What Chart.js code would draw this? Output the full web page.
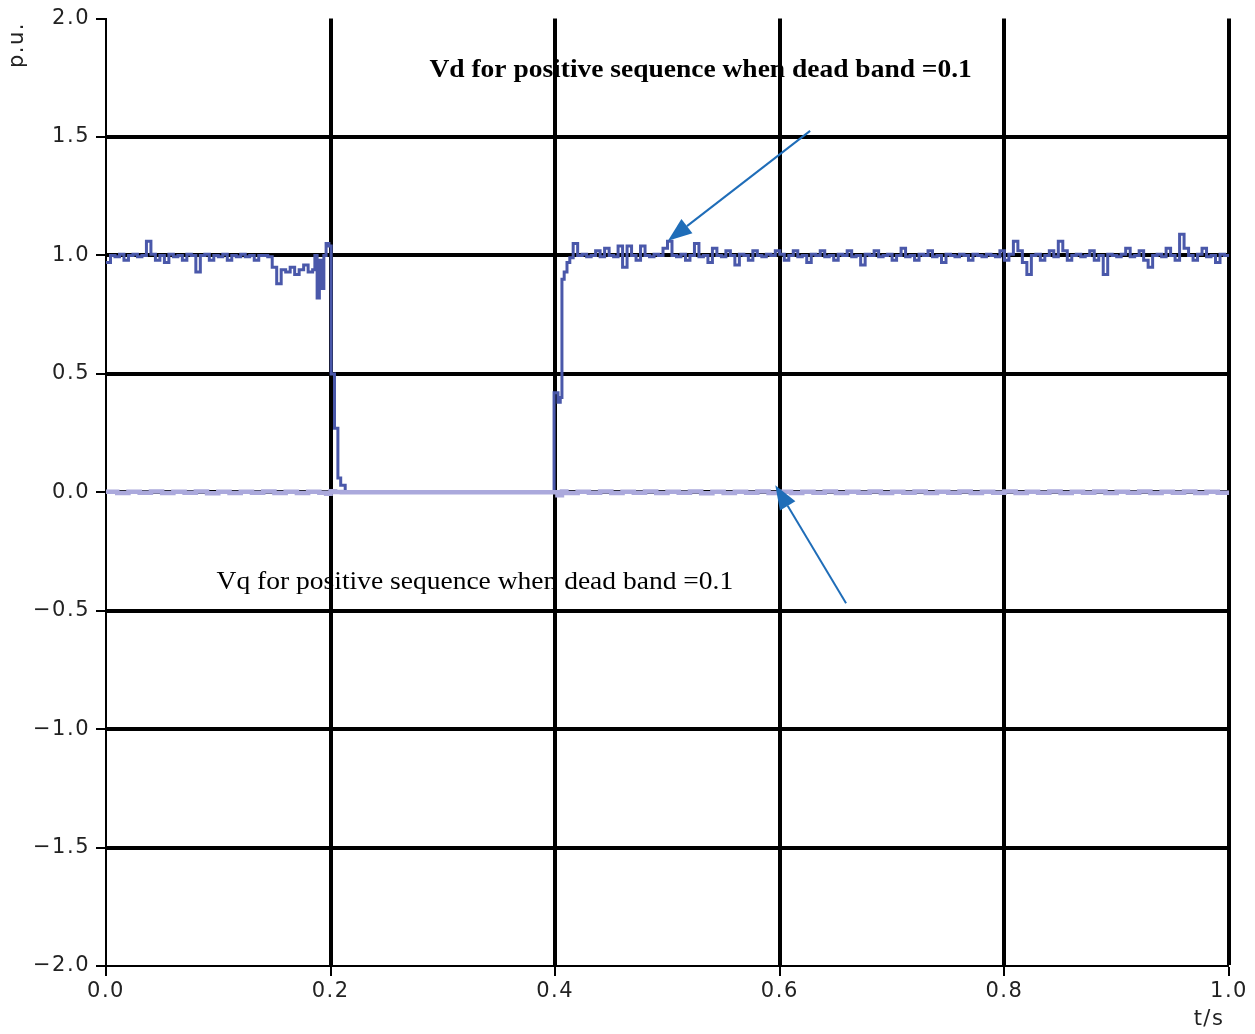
<!DOCTYPE html>
<html>
<head>
<meta charset="utf-8">
<script src="https://cdn.jsdelivr.net/npm/chart.js@4.4.1/dist/chart.umd.min.js"></script>
<style>
html,body{margin:0;padding:0;background:#fff;}
#wrap{width:1255px;height:1034px;position:relative;}
</style>
</head>
<body>
<div id="wrap"><canvas id="c" width="1255" height="1034"></canvas></div>
<script>
// ---------- data ----------
const xTickLabels = ['0.0','0.2','0.4','0.6','0.8','1.0'];
const yTickLabels = ['\u22122.0','\u22121.5','\u22121.0','\u22120.5','0.0','0.5','1.0','1.5','2.0'];

// Vd: pre-fault samples, t = 0 .. 0.184 step 0.004
const vdPreStart = 0, vdPreStep = 0.004;
const vdPre = [0.97,1.00,0.995,1.005,0.98,1.00,1.005,0.995,1.00,1.06,
               1.005,0.98,1.00,0.97,1.005,0.995,1.00,0.98,1.005,1.00,
               0.93,1.00,1.005,0.98,1.00,0.995,1.005,0.98,1.00,0.995,
               1.005,0.995,1.00,0.98,1.00,1.00,0.995,0.95,0.88,0.94,
               0.93,0.95,0.92,0.94,0.96,0.93,0.94];
// Vd: collapse around t = 0.2
const vdFallT = [0.186,0.188,0.190,0.192,0.194,0.196,0.1985,0.2005,0.2015,0.2035,0.2045,0.2065,0.209,0.213,0.399];
const vdFallV = [1.00, 0.82, 0.98, 0.86, 1.00, 1.05, 1.04,  0.50,  0.50,  0.27,  0.27,  0.06,  0.03, 0.00, 0.00];
// Vd: recovery around t = 0.4
const vdRiseT = [0.399,0.4025,0.4045,0.406,0.408,0.4105,0.413,0.416];
const vdRiseV = [0.42, 0.38,  0.40,  0.90, 0.93, 0.97,  0.99, 1.05];
// Vd: post-recovery samples, t = 0.42 .. 1.0 step 0.004
const vdPostStart = 0.42, vdPostStep = 0.004;
const vdPost = [1.00,1.005,0.995,1.00,1.02,0.995,1.03,1.00,0.995,1.04,
                0.95,1.04,1.00,0.98,1.04,1.00,0.995,1.005,1.00,1.03,
                1.06,1.00,0.995,1.005,0.98,1.00,1.05,0.995,1.00,0.97,
                1.03,1.00,0.995,1.02,1.00,0.96,1.005,1.00,0.98,1.02,
                1.00,0.995,1.005,1.00,1.02,1.005,0.98,1.00,1.02,0.995,
                1.00,0.97,1.005,1.00,1.02,0.995,1.00,0.98,1.005,1.00,
                1.02,0.995,1.00,0.96,1.005,1.00,1.02,0.995,1.00,1.005,
                0.98,1.00,1.03,0.995,1.00,0.98,1.005,1.00,1.02,0.995,
                1.00,0.97,1.005,1.00,0.995,1.005,1.00,0.98,1.005,1.00,
                0.995,1.005,1.00,0.995,1.02,0.98,1.005,1.06,1.02,0.97,
                0.92,1.00,1.005,0.98,1.00,1.02,0.995,1.06,1.02,0.98,
                1.00,1.005,0.995,1.00,1.02,0.98,1.00,0.92,1.005,1.00,
                0.995,1.005,1.03,0.995,1.00,1.02,0.98,0.95,1.00,1.005,
                0.995,1.03,1.00,0.98,1.09,1.03,1.00,0.98,1.005,1.03,
                0.995,1.00,0.97,1.005,1.00,1.00];

// Vq: pre-fault samples t = 0 .. 0.19 step 0.01
const vqPreStart = 0, vqPreStep = 0.01;
const vqPre = [0.002,-0.003,0.002,-0.002,0.003,-0.003,0.002,-0.002,0.003,-0.004,
               0.002,-0.003,0.002,-0.002,0.003,-0.003,0.002,-0.003,0.002,-0.002];
const vqMidT = [0.196,0.200,0.204,0.210,0.400,0.402,0.406];
const vqMidV = [-0.006,0.004,0.001,0.000,0.000,-0.012,0.003];
// Vq: post samples t = 0.41 .. 1.0 step 0.01
const vqPostStart = 0.41, vqPostStep = 0.01;
const vqPost = [-0.003,0.002,-0.002,0.003,-0.003,0.002,-0.002,0.003,-0.003,0.002,
                -0.002,0.003,-0.004,0.002,-0.003,0.002,-0.002,0.003,-0.003,0.002,
                -0.003,0.002,-0.002,0.003,-0.003,0.002,-0.002,0.003,-0.003,0.002,
                -0.002,0.003,-0.003,0.002,-0.002,0.003,-0.003,0.002,-0.002,0.003,
                -0.003,0.002,-0.002,0.003,-0.003,0.002,-0.002,0.003,-0.003,0.002,
                -0.002,0.003,-0.003,0.002,-0.002,0.003,-0.003,0.002,-0.002,0.000];

// annotations (data units)
const vdLabel = {text:'Vd for positive sequence when dead band =0.1', x:0.288, y:1.755, width:0.483};
const vqLabel = {text:'Vq for positive sequence when dead band =0.1', x:0.0985, y:-0.408, width:0.460};
const vdArrow = {x0:0.627, y0:1.526, x1:0.5004, y1:1.062};
const vqArrow = {x0:0.659, y0:-0.468, x1:0.596, y1:0.030};

// ---------- build ----------
function sampled(start, step, vals){ return vals.map((v,i)=>({x:+(start+i*step).toFixed(4), y:v})); }
function paired(ts, vs){ return ts.map((t,i)=>({x:t, y:vs[i]})); }
const vdData = [].concat(sampled(vdPreStart,vdPreStep,vdPre), paired(vdFallT,vdFallV),
                         paired(vdRiseT,vdRiseV), sampled(vdPostStart,vdPostStep,vdPost));
const vqData = [].concat(sampled(vqPreStart,vqPreStep,vqPre), paired(vqMidT,vqMidV),
                         sampled(vqPostStart,vqPostStep,vqPost));

function fitText(ctx, chart, lab, font){
  const xs = chart.scales.x, ys = chart.scales.y;
  const px = xs.getPixelForValue(lab.x), py = ys.getPixelForValue(lab.y);
  const w = xs.getPixelForValue(lab.x+lab.width) - px;
  ctx.save();
  ctx.letterSpacing = '0px';
  ctx.font = font;
  ctx.fillStyle = '#000';
  ctx.textBaseline = 'alphabetic';
  ctx.textAlign = 'left';
  const m = ctx.measureText(lab.text).width;
  ctx.translate(px, py);
  ctx.scale(w/m, 1);
  ctx.fillText(lab.text, 0, 0);
  ctx.restore();
}
function arrow(ctx, chart, a){
  const xs = chart.scales.x, ys = chart.scales.y;
  const x0 = xs.getPixelForValue(a.x0), y0 = ys.getPixelForValue(a.y0);
  const x1 = xs.getPixelForValue(a.x1), y1 = ys.getPixelForValue(a.y1);
  const ang = Math.atan2(y1-y0, x1-x0);
  const L = 24, W = 9;
  const bx = x1 - L*Math.cos(ang), by = y1 - L*Math.sin(ang);
  ctx.save();
  ctx.strokeStyle = '#1f6db8'; ctx.fillStyle = '#1f6db8';
  ctx.lineWidth = 2;
  ctx.beginPath(); ctx.moveTo(x0,y0); ctx.lineTo(bx,by); ctx.stroke();
  ctx.beginPath();
  ctx.moveTo(x1,y1);
  ctx.lineTo(bx + W*Math.sin(ang), by - W*Math.cos(ang));
  ctx.lineTo(bx - W*Math.sin(ang), by + W*Math.cos(ang));
  ctx.closePath(); ctx.fill();
  ctx.restore();
}

const annot = {
  id:'annot',
  beforeDraw(chart){
    const ctx = chart.ctx;
    fitText(ctx, chart, vdLabel, 'bold 26px "Liberation Serif", "Times New Roman", serif');
    fitText(ctx, chart, vqLabel, '25px "Liberation Serif", "Times New Roman", serif');
    ctx.letterSpacing = '1.5px';
  },
  afterDraw(chart){
    const ctx = chart.ctx;
    arrow(ctx, chart, vdArrow);
    arrow(ctx, chart, vqArrow);
    ctx.save();
    ctx.letterSpacing = '1.5px';
    ctx.fillStyle = '#222';
    ctx.font = '21px "DejaVu Sans", sans-serif';
    ctx.textAlign = 'center'; ctx.textBaseline = 'middle';
    ctx.fillText('t/s', 1209, 1020);
    ctx.translate(18, 45);
    ctx.rotate(-Math.PI/2);
    ctx.fillText('p.u.', 0, 0);
    ctx.restore();
    ctx.letterSpacing = '0px';
  }
};

new Chart(document.getElementById('c'), {
  type:'line',
  data:{datasets:[
    {label:'Vq', data:vqData, borderColor:'#aba9dc', borderWidth:4.5, stepped:true, pointRadius:0, fill:false},
    {label:'Vd', data:vdData, borderColor:'#4a58aa', borderWidth:3, stepped:true, pointRadius:0, fill:false}
  ]},
  options:{
    responsive:false, animation:false,
    layout:{padding:{top:17,right:26,left:0,bottom:0}},
    plugins:{legend:{display:false}, tooltip:{enabled:false}},
    scales:{
      x:{type:'linear', min:0, max:1,
        afterFit(s){ s.height = 68; },
        afterBuildTicks(s){ s.ticks = xTickLabels.map(l=>({value:parseFloat(l)})); },
        ticks:{padding:3, color:'#222', font:{family:'"DejaVu Sans", sans-serif', size:21},
          callback:(v,i)=>xTickLabels[i], maxRotation:0, autoSkip:false},
        grid:{color:'#000', lineWidth:(c)=> (c.tick && c.tick.value===0) ? 0 : 4,
          tickLength:10, tickWidth:2, tickColor:'#000', drawOnChartArea:true},
        border:{display:true, color:'#000', width:2}
      },
      y:{type:'linear', min:-2, max:2,
        afterFit(s){ s.width = 106; },
        afterBuildTicks(s){ s.ticks = yTickLabels.map(l=>({value:parseFloat(l.replace('\u2212','-'))})); },
        ticks:{padding:6, color:'#222', font:{family:'"DejaVu Sans", sans-serif', size:21},
          callback:(v,i)=>yTickLabels[i], autoSkip:false},
        grid:{color:'#000', lineWidth:(c)=> (c.tick && (c.tick.value===2 || c.tick.value===-2)) ? 0 : 4,
          tickLength:10, tickWidth:2, tickColor:'#000'},
        border:{display:true, color:'#000', width:2}
      }
    }
  },
  plugins:[annot]
});
</script>
</body>
</html>
